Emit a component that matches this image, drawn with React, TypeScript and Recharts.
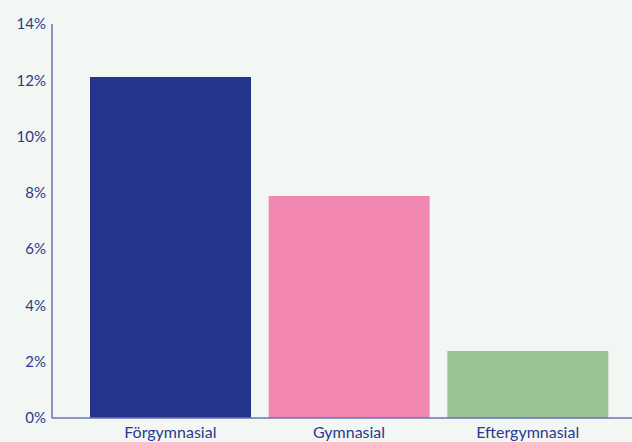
import React from "react";
import { BarChart, Bar, XAxis, YAxis, Cell } from "recharts";

const categories = ["Förgymnasial", "Gymnasial", "Eftergymnasial"];
const values = [12.12, 7.89, 2.38];
const colors = ["#25358b", "#f287b1", "#9ac295"];
const yTicks = [0, 2, 4, 6, 8, 10, 12, 14];

const data = categories.map((name, i) => ({ name, value: values[i] }));

const textColor = "#2b3990";
const axisColor = "#6a72b6";

export default function App() {
  return (
    <div style={{ position: "absolute", left: 0, top: 0, width: 632, height: 442, background: "#f2f7f3", overflow: "hidden" }}>
      <BarChart
        width={632}
        height={442}
        data={data}
        margin={{ top: 24, right: 0, left: 0, bottom: 0 }}
        barSize={161}
      >
        <XAxis
          dataKey="name"
          height={24}
          tickLine={false}
          tickMargin={3}
          axisLine={{ stroke: axisColor, strokeWidth: 1.5 }}
          padding={{ left: 29, right: 15 }}
          tick={{ fill: textColor, fontSize: 16, fontFamily: "Lato" }}
        />
        <YAxis
          width={52}
          domain={[0, 14]}
          ticks={yTicks}
          interval={0}
          tickLine={false}
          tickMargin={0}
          tickFormatter={(v) => `${v}%`}
          axisLine={{ stroke: axisColor, strokeWidth: 1.5 }}
          tick={{ fill: textColor, fontSize: 15, fontFamily: "Lato" }}
        />
        <Bar dataKey="value" isAnimationActive={false}>
          {data.map((d, i) => (
            <Cell key={d.name} fill={colors[i]} />
          ))}
        </Bar>
      </BarChart>
    </div>
  );
}
